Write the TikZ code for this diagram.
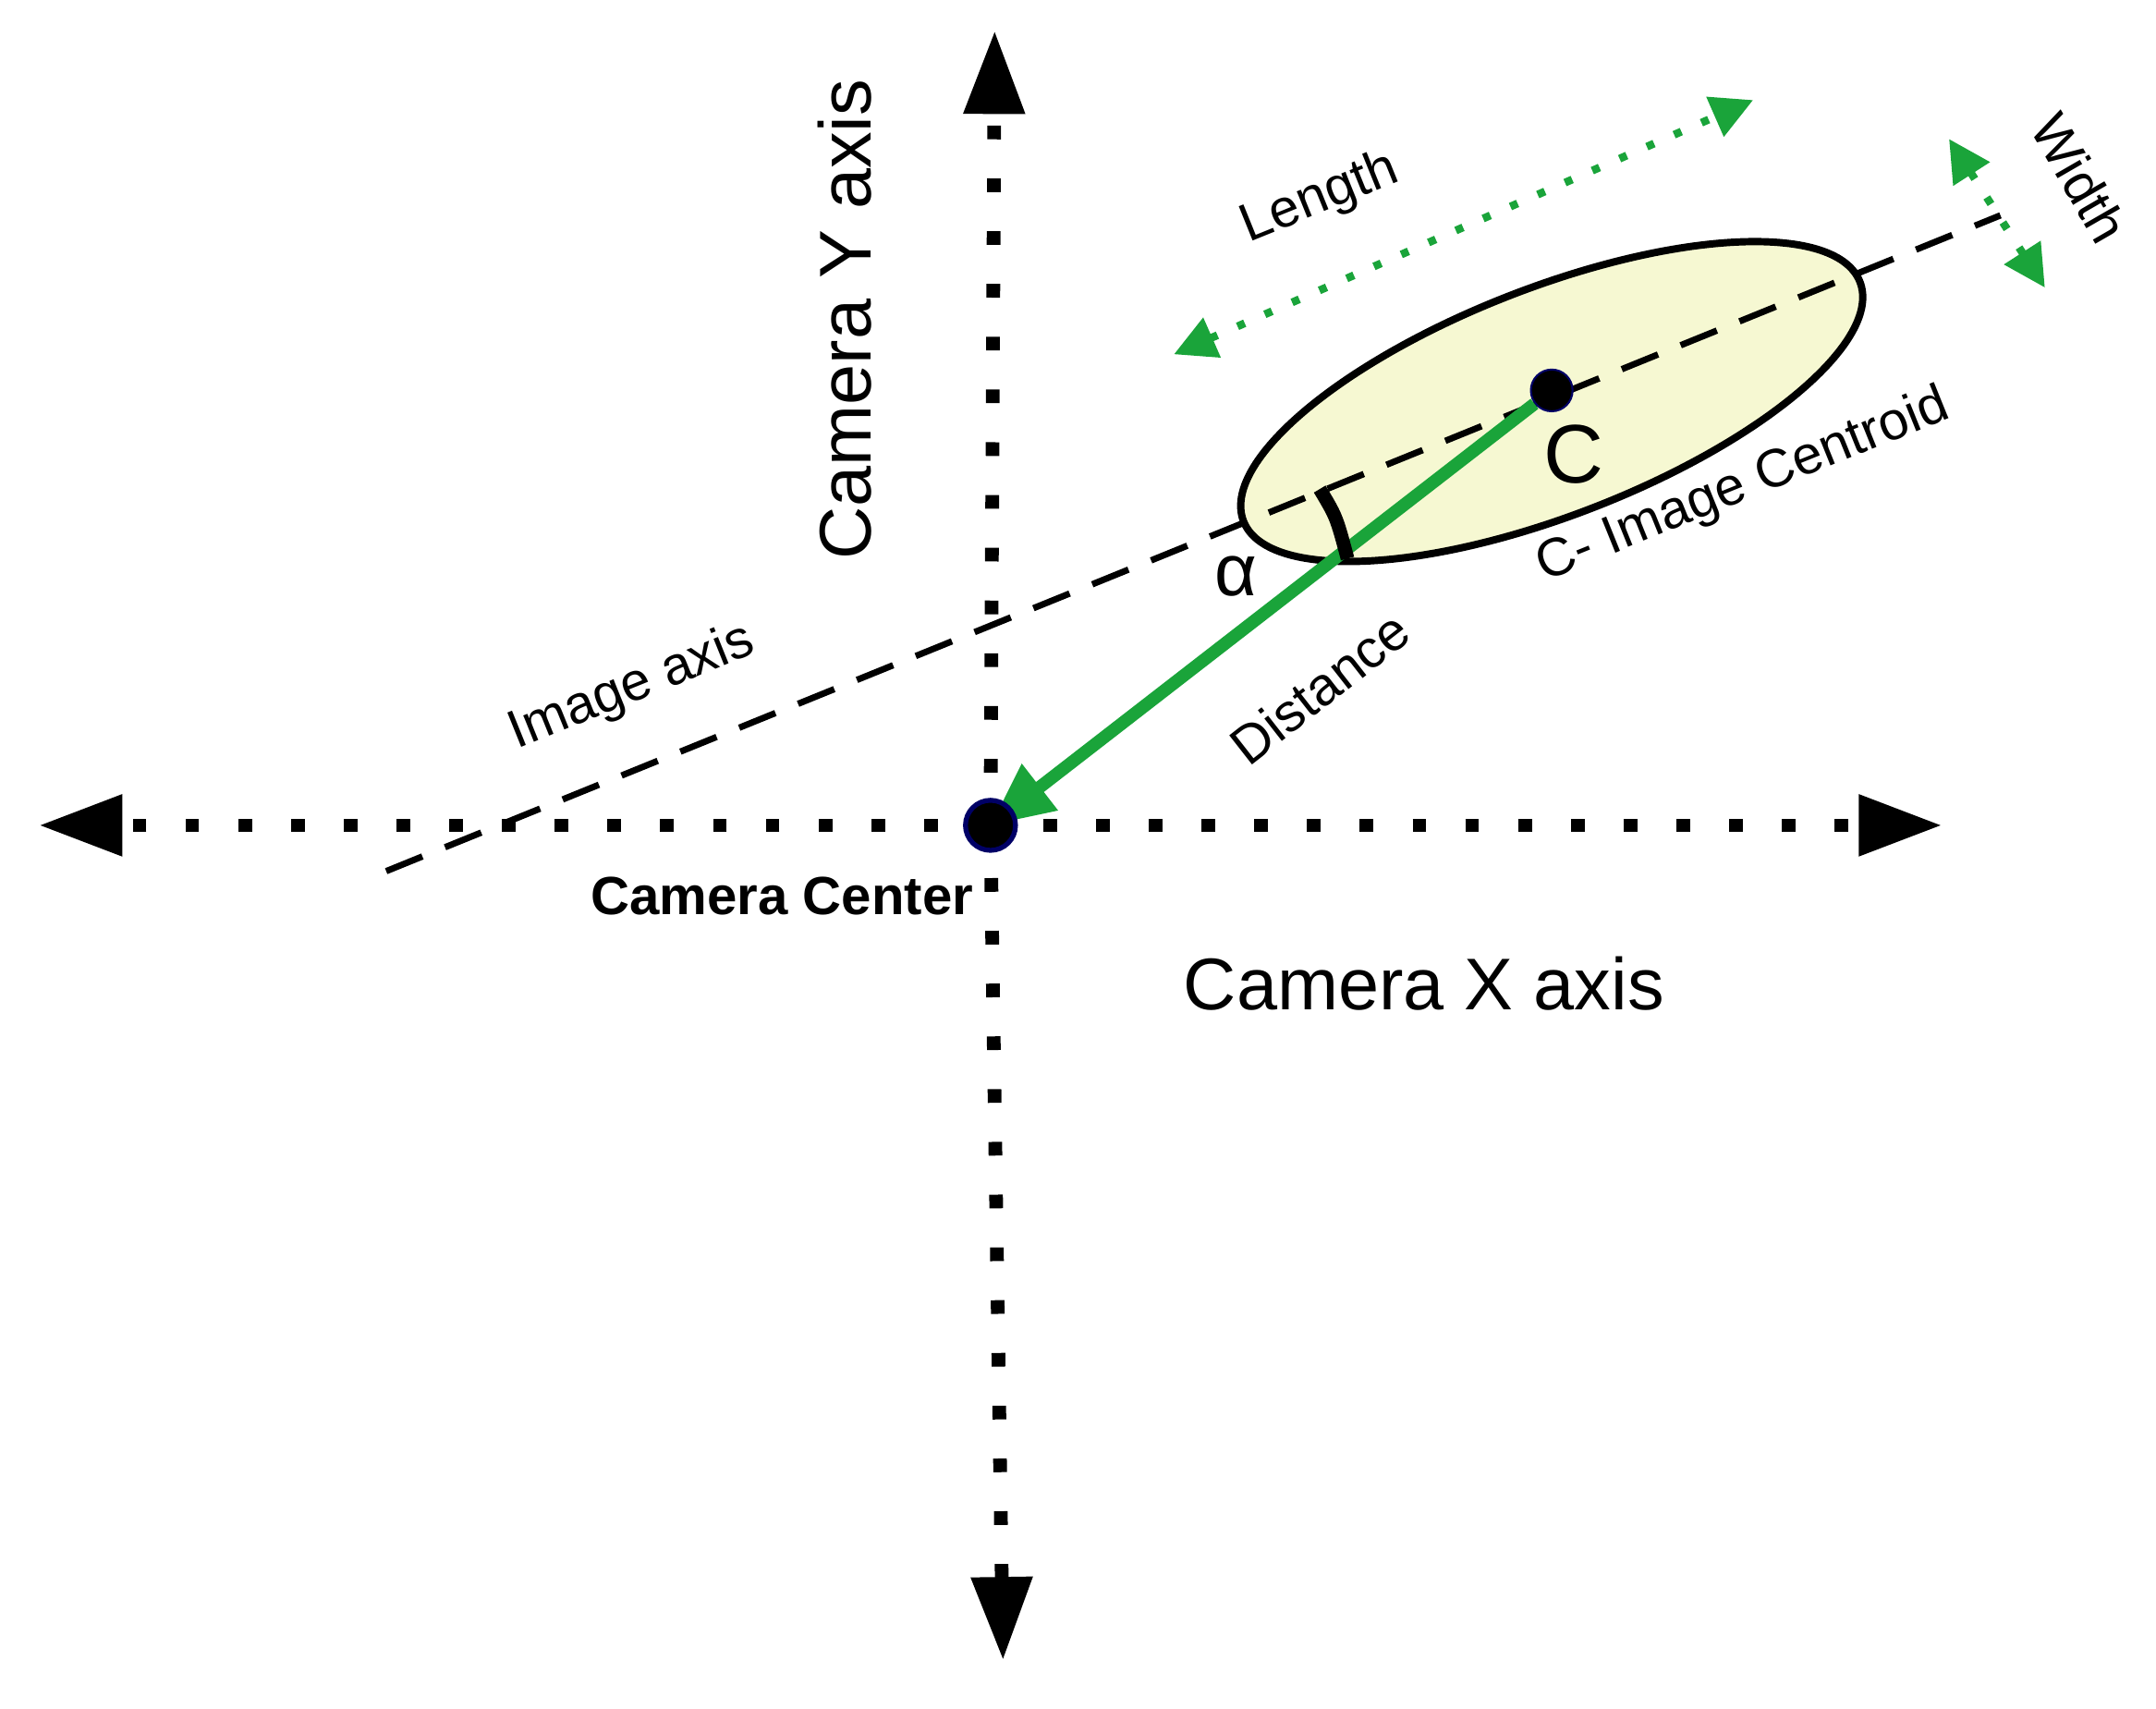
\documentclass[tikz,border=0pt]{standalone}
\usepackage{fontspec}
\setmainfont{Liberation Sans}
\usetikzlibrary{arrows.meta}
\definecolor{gr}{HTML}{1AA43A}
\definecolor{ell}{HTML}{F6F8D2}
\begin{document}
\begin{tikzpicture}[x=0.01cm,y=-0.01cm,
 axis/.style={line width=2.8pt,dash pattern=on 2.8pt off 8pt,-{Triangle[length=0.6cm,width=0.42cm]}},
 gdot/.style={gr,line width=1.6pt,dash pattern=on 1.6pt off 4.5pt,{Triangle[length=0.3cm,width=0.3cm]}-{Triangle[length=0.3cm,width=0.3cm]}},
 lbl/.style={font=\fontsize{11}{13}\selectfont},
 big/.style={font=\fontsize{15}{18}\selectfont}]
\useasboundingbox (0,0) rectangle (1552,1230);
\coordinate (cc) at (713,594);
\coordinate (yt) at (716,22);
\coordinate (yb) at (722,1195);
\coordinate (xl) at (28,594);
\coordinate (xr) at (1398,594);
\draw[axis] (cc) -- (yt);
\draw[axis] (cc) -- (yb);
\draw[axis] (cc) -- (xl);
\draw[axis] (cc) -- (xr);
\draw[fill=ell,line width=1.5pt,rotate around={21.2:(1117,289)}] (1117,289) ellipse (238 and 82);
\coordinate (ia1) at (278,627);
\coordinate (ia2) at (1440,155);
\draw[line width=1.3pt,dash pattern=on 8pt off 5pt] (ia1) -- (ia2);
\node[circle,fill=black,draw=blue!40!black,inner sep=0pt,minimum size=0.3cm] (cent) at (1117,281) {};
\draw[gr,line width=2.6pt,-{Triangle[length=0.45cm,width=0.4cm]}] (cent) -- (cc);
\node[circle,fill=black,draw=blue!40!black,line width=1pt,inner sep=0pt,minimum size=0.36cm] (ccn) at (cc) {};
\draw[line width=2.8pt] (950,352) .. controls (962,372) .. (970,402);
\node[big] at (890,415) {α};
\node[font=\fontsize{17}{20}\selectfont] at (1133,327) {C};
\node[lbl,rotate=22] at (1255,350) {C- Image Centroid};
\node[lbl,rotate=38] at (950,495) {Distance};
\node[lbl,rotate=22] at (455,495) {Image axis};
\node[big,rotate=90] at (608,230) {Camera Y axis};
\node[big] at (1025,708) {Camera X axis};
\node[font=\fontsize{11}{13}\selectfont\bfseries] at (563,645) {Camera Center};
\coordinate (l1) at (845,255);
\coordinate (l2) at (1262,72);
\draw[gdot] (l1) -- (l2);
\node[lbl,rotate=22] at (950,143) {Length};
\coordinate (w1) at (1403,100);
\coordinate (w2) at (1472,207);
\draw[gdot] (w1) -- (w2);
\node[lbl,rotate=-60] at (1497,128) {Width};
\end{tikzpicture}
\end{document}
